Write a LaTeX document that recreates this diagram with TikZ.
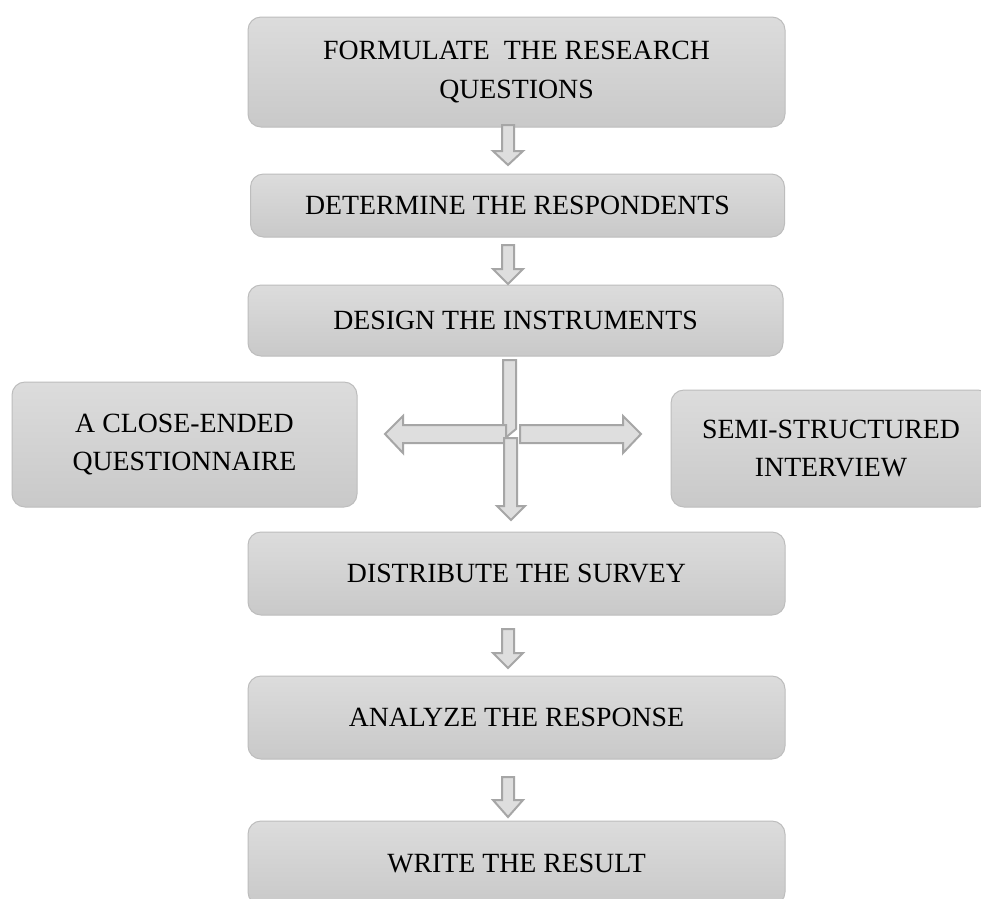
\documentclass[tikz,border=0pt]{standalone}
\usepackage{fontspec}
\setmainfont{Liberation Serif}
\definecolor{boxtop}{HTML}{DCDCDC}
\definecolor{boxbot}{HTML}{C9C9C9}
\definecolor{boxline}{HTML}{BDBDBD}
\definecolor{arrfill}{HTML}{DEDEDE}
\definecolor{arrline}{HTML}{A6A6A6}
\tikzset{
  stepbox/.style={draw=boxline, line width=1pt, rounded corners=13pt,
    top color=boxtop, bottom color=boxbot, inner sep=0pt, align=center,
    font=\fontsize{27.8}{38.5}\selectfont},
  blockarr/.style={fill=arrfill, draw=arrline, line width=2pt, line join=miter}
}
\newcommand\blockdown[4]{% cx, top, headstart, tip
  \draw[blockarr] (#1-6,#2) -- (#1+6,#2) -- (#1+6,#3) -- (#1+15,#3) -- (#1,#4)
    -- (#1-15,#3) -- (#1-6,#3) -- cycle;}
\begin{document}
\begin{tikzpicture}[x=1pt,y=-1pt]
\clip (0,0) rectangle (981,898);
\fill[white] (0,0) rectangle (981,898);
% main boxes
\node[stepbox, minimum width=537pt, minimum height=110pt] (b1) at (516.5,72) {FORMULATE~~THE RESEARCH\\QUESTIONS};
\node[stepbox, minimum width=534pt, minimum height=63pt] (b2) at (517.5,205.5) {DETERMINE THE RESPONDENTS};
\node[stepbox, minimum width=535pt, minimum height=71pt] (b3) at (515.5,320.5) {DESIGN THE INSTRUMENTS};
\node[stepbox, minimum width=345pt, minimum height=125pt] (bl) at (184.5,444.5) {A CLOSE-ENDED\\QUESTIONNAIRE};
\node[stepbox, minimum width=320pt, minimum height=117pt] (br) at (831,448.5) {SEMI-STRUCTURED\\INTERVIEW};
\node[stepbox, minimum width=537pt, minimum height=83pt] (b4) at (516.5,573.5) {DISTRIBUTE THE SURVEY};
\node[stepbox, minimum width=537pt, minimum height=83pt] (b5) at (516.5,717.5) {ANALYZE THE RESPONSE};
\node[stepbox, minimum width=537pt, minimum height=84pt] (b6) at (516.5,863) {WRITE THE RESULT};
% down arrows
\blockdown{508}{125}{151}{165}
\blockdown{508}{245}{269}{284}
\blockdown{508}{629}{653}{668}
\blockdown{508}{777}{800}{817}
% cross of arrows below DESIGN
\draw[blockarr] (503,360) -- (516,360) -- (516,429) -- (504,439) -- (503,439) -- cycle;
\draw[blockarr] (506,425) -- (403,425) -- (403,416) -- (385,434) -- (403,453) -- (403,443) -- (506,443) -- cycle;
\draw[blockarr] (520,425) -- (623,425) -- (623,416) -- (641,434) -- (623,453) -- (623,443) -- (520,443) -- cycle;
\draw[blockarr] (504,438) -- (517,438) -- (517,506) -- (525,506) -- (511,520) -- (497,506) -- (504,506) -- cycle;
\end{tikzpicture}
\end{document}
